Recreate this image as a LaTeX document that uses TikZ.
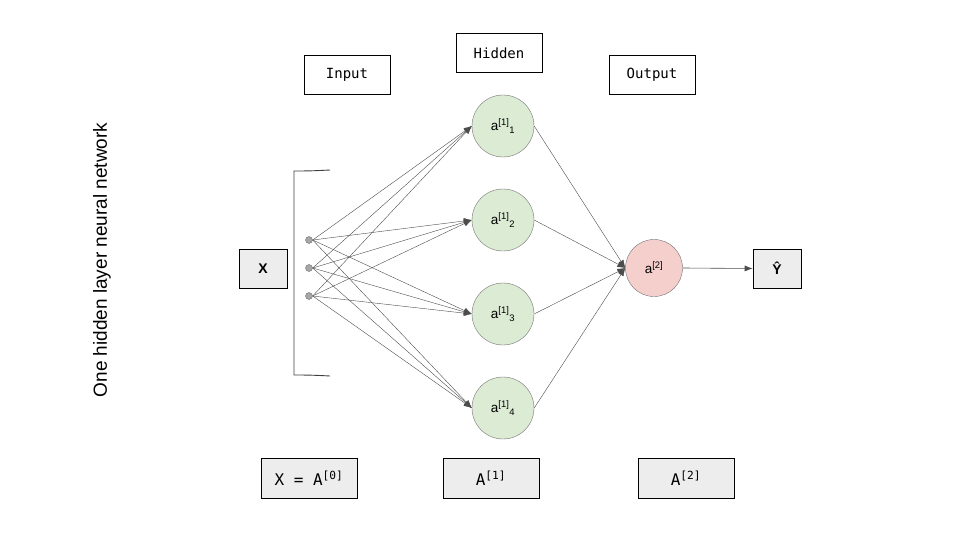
\documentclass[tikz,border=0pt]{standalone}
\usepackage{fontspec}
\setmainfont{Liberation Sans}
\setmonofont{DejaVu Sans Mono}
\usetikzlibrary{arrows.meta}

\definecolor{hiddengreen}{HTML}{DCEBD4}
\definecolor{outpink}{HTML}{F4CFCC}

\tikzset{
  labelbox/.style = {draw, semithick, minimum width = 86pt, minimum height = 39pt,
    font = \fontsize{14}{16}\ttfamily},
  greybox/.style = {draw, semithick, fill = black!7, minimum width = 48pt,
    minimum height = 39pt, font = \fontsize{14}{16}\bfseries},
  layerbox/.style = {draw, semithick, fill = black!7, minimum width = 96pt,
    minimum height = 40pt, font = \fontsize{16}{18}\ttfamily},
  hiddenunit/.style = {circle, draw = black!55, fill = hiddengreen,
    minimum size = 62pt, inner sep = 0pt, font = \fontsize{13.5}{16}\selectfont},
  outunit/.style = {circle, draw = black!55, fill = outpink,
    minimum size = 57pt, inner sep = 0pt, font = \fontsize{13.5}{16}\selectfont},
  inputdot/.style = {circle, draw = black!55, fill = black!35,
    minimum size = 7pt, inner sep = 0pt},
  wire/.style = {draw = black!70, -{Latex[length = 8pt, width = 6pt]}}
}

\begin{document}
\begin{tikzpicture}[x = 1pt, y = -1pt]
  \useasboundingbox (0, 0) rectangle (960, 540);

  \node[rotate = 90, font = \fontsize{19}{22}\selectfont] (title)
    at (102, 260) {One hidden layer neural network};

  \node[labelbox] (input) at (347, 74.5) {Input};
  \node[labelbox] (hidden) at (499, 53) {Hidden};
  \node[labelbox] (output) at (652, 74.5) {Output};

  \node[greybox] (x) at (263, 268.5) {X};
  \node[greybox] (yhat) at (777, 268.5) {\^{Y}};

  % bracket round the input
  \draw[black!75, line width = 0.9pt] (330, 170) to[out = 183, in = 0] (296, 171)
    -- (294, 171) -- (294, 375) -- (296, 375) to[out = 0, in = 177] (330, 376);

  \foreach \i/\y in {1/240, 2/268, 3/296}
    \node[inputdot] (x\i) at (309, \y) {};

  \foreach \j/\y in {1/126, 2/220, 3/314, 4/408}
    \node[hiddenunit] (h\j) at (503, \y) {a\textsuperscript{[1]}\textsubscript{\j}};

  \node[outunit] (out) at (654, 268) {a\textsuperscript{[2]}};

  \foreach \i in {1, 2, 3}
    \foreach \j in {1, 2, 3, 4}
      \draw[wire] (x\i.east) -- (h\j.west);

  \foreach \j in {1, 2, 3, 4}
    \draw[wire] (h\j.east) -- (out.west);

  \draw[wire, semithick] (out.east) -- (yhat.west);

  \node[layerbox] (a0) at (309, 478) {X = A\textsuperscript{[0]}};
  \node[layerbox] (a1) at (491, 478) {A\textsuperscript{[1]}};
  \node[layerbox] (a2) at (686, 478) {A\textsuperscript{[2]}};

\end{tikzpicture}
\end{document}
